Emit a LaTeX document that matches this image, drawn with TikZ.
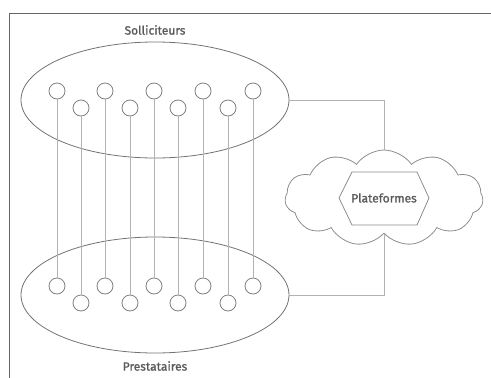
\documentclass[tikz,border=0pt]{standalone}
\usepackage{fontspec}
\setmainfont{Fira Sans}
\newfontfamily\labelfont[FakeBold=1.2]{Fira Sans}
\usetikzlibrary{shapes.geometric,shapes.symbols}
\begin{document}
\begin{tikzpicture}[x=1pt,y=-1pt,
  link/.style={draw=black!30, line width=0.8pt},
  dot/.style={circle, draw=black!50, line width=0.8pt, minimum size=16pt, inner sep=0pt},
  group/.style={ellipse, draw=black!55, line width=0.8pt, minimum width=268pt, minimum height=116pt, inner sep=0pt},
  lbl/.style={text=black!65, font=\labelfont\fontsize{12}{14}\selectfont},
  puff/.style={cloud, cloud puffs=11, cloud puff arc=110, aspect=2, draw=black!45, line width=0.8pt, minimum width=198pt, minimum height=96pt, inner sep=0pt},
  hexa/.style={draw=black!45, line width=0.8pt}]
\useasboundingbox (0,0) rectangle (491,378);
\draw[black!60, line width=1pt] (491,13) -- (9,13) -- (9,378);
\node[group] (top) at (155,100) {};
\node[group] (bot) at (155,295) {};
\node[lbl] (sol) at (155,30) {Solliciteurs};
\node[lbl] (pre) at (155,366) {Prestataires};
\foreach \i/\x in {1/57,2/81,3/105,4/130,5/154,6/178,7/203,8/228,9/253}{
  \pgfmathsetmacro{\yt}{isodd(\i) ? 91 : 108}
  \pgfmathsetmacro{\yb}{isodd(\i) ? 286 : 303}
  \node[dot] (t\i) at (\x,\yt) {};
  \node[dot] (b\i) at (\x,\yb) {};
  \draw[link] (t\i.south) -- (b\i.north);
}
\node[puff] (cl) at (384,198) {};
\draw[hexa] (339,198) -- (352,172) -- (417,172) -- (429,198) -- (417,225) -- (352,225) -- cycle;
\node[lbl] (plat) at (384,198) {Plateformes};
\draw[link] (top.east) -| (cl.north);
\draw[link] (bot.east) -| (cl.south);
\end{tikzpicture}
\end{document}
